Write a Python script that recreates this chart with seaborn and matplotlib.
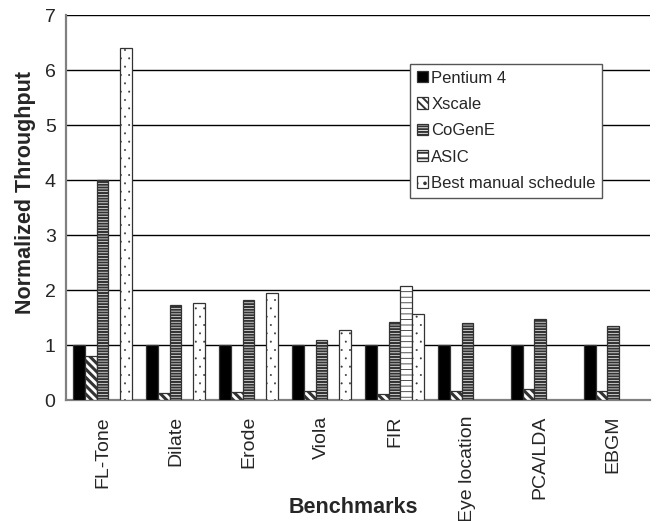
import numpy as np
import pandas as pd
import matplotlib
matplotlib.use("Agg")
import matplotlib.pyplot as plt
from matplotlib.patches import Patch
from matplotlib.ticker import FixedLocator
import seaborn as sns

# Normalized throughput per benchmark (Pentium 4 = 1)
benchmarks = ["FL-Tone", "Dilate", "Erode", "Viola", "FIR", "Eye location", "PCA/LDA", "EBGM"]
pentium4 = [1.0, 1.0, 1.0, 1.0, 1.0, 1.0, 1.0, 1.0]
xscale = [0.80, 0.12, 0.145, 0.16, 0.11, 0.16, 0.20, 0.16]
cogene = [4.0, 1.72, 1.81, 1.09, 1.42, 1.40, 1.47, 1.35]
asic = [np.nan, np.nan, np.nan, np.nan, 2.07, np.nan, np.nan, np.nan]
best_manual = [6.4, 1.76, 1.95, 1.28, 1.56, np.nan, np.nan, np.nan]

series_names = ["Pentium 4", "Xscale", "CoGenE", "ASIC", "Best manual schedule"]
series_values = [pentium4, xscale, cogene, asic, best_manual]
y_ticks = [0, 1, 2, 3, 4, 5, 6, 7]

df = pd.DataFrame(
    [(b, name, v) for name, vals in zip(series_names, series_values)
     for b, v in zip(benchmarks, vals)],
    columns=["Benchmark", "Platform", "Throughput"],
)

sns.set_style("white")
plt.rcParams["font.family"] = ["Liberation Sans", "DejaVu Sans"]
plt.rcParams["hatch.linewidth"] = 1.4

fills = {"Pentium 4": "black", "Xscale": "white", "CoGenE": "white",
         "ASIC": "white", "Best manual schedule": "white"}
hatches = {"Pentium 4": "", "Xscale": "\\\\\\\\", "CoGenE": "------",
           "ASIC": "---", "Best manual schedule": ".."}
hatch_widths = {"Pentium 4": 1.0, "Xscale": 2.2, "CoGenE": 1.5,
                "ASIC": 0.6, "Best manual schedule": 0.2}


def style_patch(p, name):
    p.set_hatch(hatches[name])
    if hasattr(p, "set_hatch_linewidth"):
        p.set_hatch_linewidth(hatch_widths[name])


fig = plt.figure(figsize=(6.57, 5.21), dpi=100)
ax = fig.add_axes([0.1005, 0.2322, 0.8885, 0.739])

sns.barplot(data=df, x="Benchmark", y="Throughput", hue="Platform",
            hue_order=series_names, order=benchmarks, palette=fills,
            errorbar=None, width=0.8, gap=0, edgecolor="#333333",
            linewidth=0.9, ax=ax, legend=False, zorder=3)

for name, cont in zip(series_names, ax.containers):
    for p in cont.patches:
        style_patch(p, name)

ax.set_ylim(0, 7)
ax.set_xlim(-0.5, len(benchmarks) - 0.5)
ax.set_yticks(y_ticks)
ax.set_yticklabels([str(t) for t in y_ticks], fontsize=14)
ax.yaxis.grid(True, color="black", linewidth=1.0, zorder=0)
ax.set_axisbelow(True)

ax.set_xticks(range(len(benchmarks)))
ax.set_xticklabels(benchmarks, rotation=90, fontsize=14, va="top")
ax.tick_params(axis="x", which="major", length=0, pad=11.5)
ax.xaxis.set_minor_locator(FixedLocator(np.arange(-0.5, len(benchmarks), 1.0)))
ax.tick_params(axis="x", which="minor", length=4.5, width=1, color="#555555", direction="out")
ax.tick_params(axis="y", length=4.5, width=1, color="#555555", direction="out", pad=3)

for side in ("top", "right"):
    ax.spines[side].set_visible(False)
for side in ("left", "bottom"):
    ax.spines[side].set_color("#808080")
    ax.spines[side].set_linewidth(1.6)

ax.set_xlabel("Benchmarks", fontsize=15.5, fontweight="bold", va="center")
ax.xaxis.set_label_coords(0.493, -0.28)
ax.set_ylabel("Normalized Throughput", fontsize=15.5, fontweight="bold", va="center")
ax.yaxis.set_label_coords(-0.07, 0.54)

handles = []
for n in series_names:
    h = Patch(facecolor=fills[n], edgecolor="#333333", linewidth=0.9)
    style_patch(h, n)
    handles.append(h)
leg = ax.legend(handles, series_names, loc="upper left", bbox_to_anchor=(0.590, 0.873),
                borderaxespad=0, fontsize=12, frameon=True, fancybox=False,
                edgecolor="#555555", framealpha=1, handlelength=0.65, handleheight=0.65,
                handletextpad=0.2, labelspacing=0.68, borderpad=0.4)
leg.get_frame().set_linewidth(1.0)
leg.set_zorder(5)

fig.savefig("out.png", dpi=100)
